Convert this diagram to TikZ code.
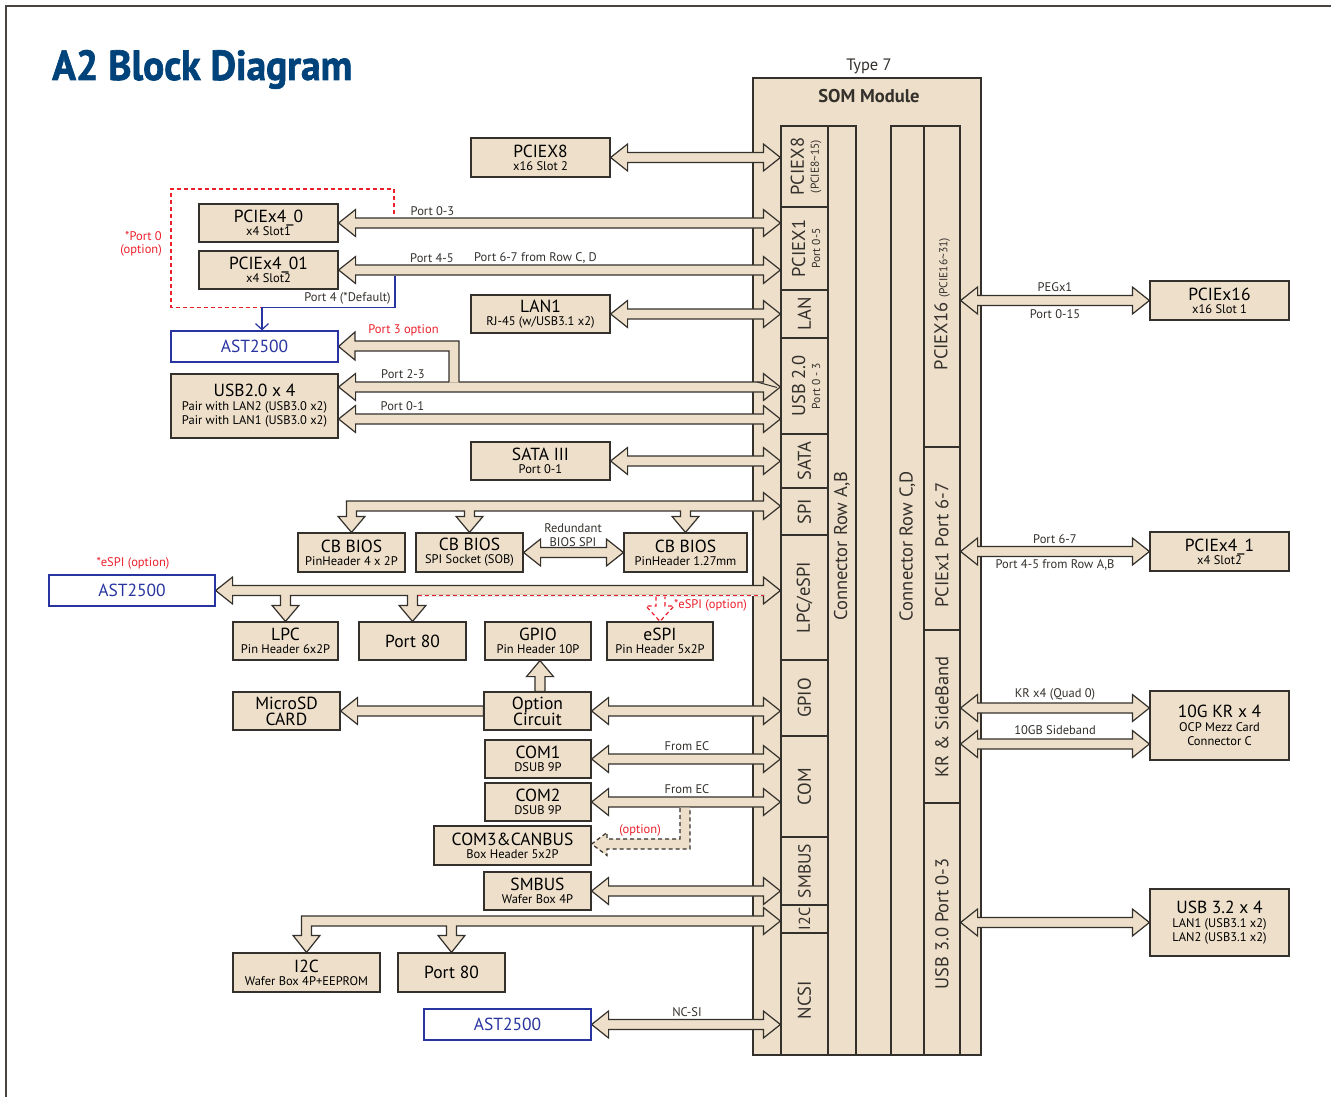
\documentclass[tikz,border=0pt]{standalone}
\usepackage{fontspec}
\setmainfont{PT Sans}
\usepackage{graphicx}
\usetikzlibrary{arrows.meta,calc}
\pgfdeclarelayer{back}
\pgfdeclarelayer{arr}
\pgfsetlayers{back,arr,main}
\definecolor{bg}{RGB}{237,223,201}
\definecolor{ink}{RGB}{52,48,44}
\definecolor{astblue}{RGB}{40,52,160}
\definecolor{optred}{RGB}{236,32,44}
\definecolor{titleblue}{RGB}{0,66,122}
\newcommand\bx[2]{{\fontsize{17.5}{13}\selectfont #1}\\#2}
% double horizontal block arrow: y of #1, from x of #1 to x of #2
\newcommand\dbl[2]{\path[blk] let \p1=(#1), \p2=(#2) in
 (\x1,\y1) -- (\x1+17pt,\y1+13.5pt) -- (\x1+17pt,\y1+5pt) -- (\x2-17pt,\y1+5pt) -- (\x2-17pt,\y1+13.5pt) -- (\x2,\y1)
 -- (\x2-17pt,\y1-13.5pt) -- (\x2-17pt,\y1-5pt) -- (\x1+17pt,\y1-5pt) -- (\x1+17pt,\y1-13.5pt) -- cycle;}
\begin{document}
\begin{tikzpicture}[x=1pt,y=-1pt,
 box/.style={draw=ink,fill=bg,line width=1.2pt,inner sep=0pt,align=center,font=\fontsize{12.5}{13}\selectfont},
 bigbox/.style={box,font=\fontsize{17.5}{16}\selectfont},
 tribox/.style={box,font=\fontsize{12.5}{14}\selectfont},
 astbox/.style={draw=astblue,fill=white,line width=1.2pt,inner sep=0pt,text=astblue,font=\fontsize{17.5}{17}\selectfont},
 cell/.style={draw=ink,fill=bg,line width=1.2pt,inner sep=0pt},
 rot/.style={rotate=90,inner sep=0pt,align=center,text=ink,font=\fontsize{18.5}{15}\selectfont},
 lbl/.style={inner sep=0pt,text=ink,font=\fontsize{12.5}{12}\selectfont},
 redlbl/.style={lbl,text=optred},
 blk/.style={fill=bg,draw=ink,line width=1.2pt,line join=miter},
 frameln/.style={draw=ink!90,line width=2.5pt},
 blueln/.style={draw=astblue,line width=1.2pt},
 reddash/.style={draw=optred,line width=1.2pt,dash pattern=on 4pt off 3pt},
 blkdash/.style={draw=ink,line width=1.2pt,dash pattern=on 4pt off 3pt}
]
\useasboundingbox (0,0) rectangle (1331,1097);
\begin{pgfonlayer}{back}
\fill[white] (0,0) rectangle (1331,1097);
\end{pgfonlayer}
\draw[frameln] (6,1100) -- (6,6) -- (1335,6);

% title
\node[anchor=base west,inner sep=0pt,text=titleblue] (title) at (52,80)
  {\resizebox{300pt}{30pt}{\bfseries\addfontfeature{FakeBold=1.6}A2 Block Diagram}};

% ---------- SOM module ----------
\begin{pgfonlayer}{back}
\node[cell,minimum width=228pt,minimum height=977pt] (som) at (867,566.5) {};
\end{pgfonlayer}
\node[inner sep=0pt,text=ink,font=\fontsize{16.5}{16}\selectfont] (type7) at (869,66) {Type 7};
\node[inner sep=0pt,text=ink,font=\fontsize{18.5}{18}\selectfont\bfseries] (somt) at (869,96) {SOM Module};

\node[cell,minimum width=47pt,minimum height=81pt]  (s-x8)   at (804.5,166.5) {};
\node[cell,minimum width=47pt,minimum height=83pt]  (s-x1)   at (804.5,248.5) {};
\node[cell,minimum width=47pt,minimum height=48pt]  (s-lan)  at (804.5,314) {};
\node[cell,minimum width=47pt,minimum height=96pt]  (s-usb)  at (804.5,386) {};
\node[cell,minimum width=47pt,minimum height=54pt]  (s-sata) at (804.5,461) {};
\node[cell,minimum width=47pt,minimum height=47pt]  (s-spi)  at (804.5,511.5) {};
\node[cell,minimum width=47pt,minimum height=125pt] (s-lpc)  at (804.5,597.5) {};
\node[cell,minimum width=47pt,minimum height=76pt]  (s-gpio) at (804.5,698) {};
\node[cell,minimum width=47pt,minimum height=101pt] (s-com)  at (804.5,786.5) {};
\node[cell,minimum width=47pt,minimum height=68pt]  (s-smb)  at (804.5,871) {};
\node[cell,minimum width=47pt,minimum height=28pt]  (s-i2c)  at (804.5,919) {};
\node[cell,minimum width=47pt,minimum height=122pt] (s-ncsi) at (804.5,994) {};
\node[cell,minimum width=28pt,minimum height=929pt] (s-ab)   at (842,590.5) {};
\node[cell,minimum width=33pt,minimum height=929pt] (s-cd)   at (907.5,590.5) {};
\node[cell,minimum width=36pt,minimum height=321pt] (s-x16)  at (942,286.5) {};
\node[cell,minimum width=36pt,minimum height=183pt] (s-p67)  at (942,538.5) {};
\node[cell,minimum width=36pt,minimum height=173pt] (s-kr)   at (942,716.5) {};
\node[cell,minimum width=36pt,minimum height=252pt] (s-u3)   at (942,929) {};

\node[rot] (t-x8)   at (806,166.5) {PCIEX8\\{\fontsize{11.5}{11}\selectfont (PCIE8\textasciitilde15)}};
\node[rot] (t-x1)   at (806,248.5) {PCIEX1\\{\fontsize{11.5}{11}\selectfont Port 0-5}};
\node[rot] (t-lan)  at (804.5,314) {LAN};
\node[rot] (t-usb)  at (806,386) {USB 2.0\\{\fontsize{11.5}{11}\selectfont Port 0 - 3}};
\node[rot] (t-sata) at (804.5,461) {SATA};
\node[rot] (t-spi)  at (804.5,511.5) {SPI};
\node[rot] (t-lpc)  at (804.5,597.5) {LPC/eSPI};
\node[rot] (t-gpio) at (804.5,698) {GPIO};
\node[rot] (t-com)  at (804.5,786.5) {COM};
\node[rot,font=\fontsize{17.5}{15}\selectfont] (t-smb)  at (804.5,871) {SMBUS};
\node[rot,font=\fontsize{16}{15}\selectfont] (t-i2c)  at (804.5,919) {I2C};
\node[rot] (t-ncsi) at (804.5,1000) {NCSI};
\node[rot] (t-ab)   at (842,546) {Connector Row A,B};
\node[rot] (t-cd)   at (907.5,546) {Connector Row C,D};
\node[rot] (t-x16)  at (942,304) {PCIEX16 {\fontsize{11.5}{11}\selectfont (PCIE16\textasciitilde31)}};
\node[rot] (t-p67)  at (942,545) {PCIEx1 Port 6-7};
\node[rot] (t-kr)   at (942,717) {KR \& SideBand};
\node[rot] (t-u3)   at (942,924) {USB 3.0 Port 0-3};

% ---------- left blocks ----------
\node[box,minimum width=139pt,minimum height=39pt] (pcie8) at (540.5,157.5) {\bx{PCIEX8}{x16 Slot 2}};
\node[box,minimum width=139pt,minimum height=38pt] (x40)   at (268.5,223) {\bx{PCIEx4\_0}{x4 Slot1}};
\node[box,minimum width=139pt,minimum height=38pt] (x401)  at (268.5,270) {\bx{PCIEx4\_01}{x4 Slot2}};
\node[astbox,minimum width=167pt,minimum height=31pt] (ast1) at (254.5,346.5) {AST2500};
\node[tribox,minimum width=167pt,minimum height=64pt] (usb2) at (254.5,406) {{\fontsize{17.5}{14}\selectfont USB2.0 x 4}\\Pair with LAN2 (USB3.0 x2)\\Pair with LAN1 (USB3.0 x2)};
\node[box,minimum width=139pt,minimum height=38pt] (lan1)  at (540.5,314) {\bx{LAN1}{RJ-45 (w/USB3.1 x2)}};
\node[box,minimum width=139pt,minimum height=38pt] (sata)  at (540.5,461) {\bx{SATA III}{Port 0-1}};
\node[box,minimum width=107pt,minimum height=39pt] (cb1)   at (351.5,552.5) {\bx{CB BIOS}{PinHeader 4 x 2P}};
\node[box,minimum width=107pt,minimum height=39pt] (cb2)   at (469.5,552.5) {\bx{CB BIOS}{SPI Socket (SOB)}};
\node[box,minimum width=123pt,minimum height=39pt] (cb3)   at (685.5,552.5) {\bx{CB BIOS}{PinHeader 1.27mm}};
\node[astbox,minimum width=166pt,minimum height=31pt] (ast2) at (132,590.5) {AST2500};
\node[box,minimum width=105pt,minimum height=38pt] (lpc)   at (285.5,641) {\bx{LPC}{Pin Header 6x2P}};
\node[bigbox,minimum width=107pt,minimum height=38pt] (p80a) at (412.5,641) {Port 80};
\node[box,minimum width=106pt,minimum height=38pt] (gpio)  at (538,641) {\bx{GPIO}{Pin Header 10P}};
\node[box,minimum width=106pt,minimum height=38pt] (espi)  at (660,641) {\bx{eSPI}{Pin Header 5x2P}};
\node[bigbox,minimum width=107pt,minimum height=38pt] (msd) at (286.5,711) {MicroSD\\CARD};
\node[bigbox,minimum width=107pt,minimum height=38pt] (opt) at (537.5,711) {Option\\Circuit};
\node[box,minimum width=106pt,minimum height=38pt] (com1)  at (538,759) {\bx{COM1}{DSUB 9P}};
\node[box,minimum width=106pt,minimum height=38pt] (com2)  at (538,802) {\bx{COM2}{DSUB 9P}};
\node[box,minimum width=157pt,minimum height=39pt] (com3)  at (512.5,845.5) {\bx{COM3\&CANBUS}{Box Header 5x2P}};
\node[box,minimum width=107pt,minimum height=38pt] (smb)   at (537.5,891) {\bx{SMBUS}{Wafer Box 4P}};
\node[box,minimum width=147pt,minimum height=39pt] (i2c)   at (306.5,972.5) {\bx{I2C}{Wafer Box 4P+EEPROM}};
\node[bigbox,minimum width=107pt,minimum height=39pt] (p80b) at (451.5,972.5) {Port 80};
\node[astbox,minimum width=167pt,minimum height=31pt] (ast3) at (507.5,1024.5) {AST2500};

% ---------- right blocks ----------
\node[box,minimum width=139pt,minimum height=39pt] (x16) at (1219.5,300.5) {\bx{PCIEx16}{x16 Slot 1}};
\node[box,minimum width=139pt,minimum height=39pt] (x41) at (1219.5,551.5) {\bx{PCIEx4\_1}{x4 Slot2}};
\node[tribox,minimum width=139pt,minimum height=69pt] (kr) at (1219.5,725.5) {{\fontsize{17.5}{14}\selectfont 10G KR x 4}\\OCP Mezz Card\\Connector C};
\node[tribox,minimum width=139pt,minimum height=67pt] (u32) at (1219.5,922.5) {{\fontsize{17.5}{14}\selectfont USB 3.2 x 4}\\LAN1 (USB3.1 x2)\\LAN2 (USB3.1 x2)};

% ---------- arrows ----------
\begin{pgfonlayer}{arr}
\dbl{pcie8.east}{s-x8.west}
\dbl{x40.east}{s-x1.west}
\dbl{x401.east}{s-x1.west}
\dbl{lan1.east}{s-lan.west}
\dbl{[yshift=19pt]usb2.east}{s-usb.west}
\dbl{[yshift=-13pt]usb2.east}{s-usb.west}
\dbl{sata.east}{s-sata.west}
\dbl{cb2.east}{cb3.west}
\dbl{opt.east}{s-gpio.west}
\dbl{com1.east}{s-com.west}
\dbl{com2.east}{s-com.west}
\dbl{smb.east}{s-smb.west}
\dbl{ast3.east}{s-ncsi.west}
\dbl{s-x16.east |- x16.west}{x16.west}
\dbl{s-p67.east |- x41.west}{x41.west}
\coordinate (krq) at ($(s-kr.east |- kr.west)+(0,-17.5)$);
\coordinate (krs) at ($(s-kr.east |- kr.west)+(0,18.5)$);
\dbl{krq}{kr.west}
\dbl{krs}{kr.west}
\dbl{s-u3.east |- u32.west}{u32.west}
% MicroSD <- Option circuit
\path[blk] let \p1=(msd.east), \p2=(opt.west) in
 (\x1,\y1) -- (\x1+17pt,\y1+13.5pt) -- (\x1+17pt,\y1+5pt) -- (\x2,\y1+5pt) -- (\x2,\y1-5pt) -- (\x1+17pt,\y1-5pt) -- (\x1+17pt,\y1-13.5pt) -- cycle;
% Option circuit -> GPIO
\path[blk] let \p1=(gpio.south), \p2=(opt.north) in
 (\x1+2pt,\y1) -- (\x1+15.5pt,\y1-16pt) -- (\x1+7pt,\y1-16pt) -- (\x1+7pt,\y2) -- (\x1-3pt,\y2) -- (\x1-3pt,\y1-16pt) -- (\x1-11.5pt,\y1-16pt) -- cycle;
% SPI bus
\path[blk] let \p1=(cb1.north), \p2=(cb2.north), \p3=(cb3.north), \p4=(s-spi.west), \p0=(0,506) in
 (\x1-5pt,\y0+5pt) -- (\x4-17pt,\y0+5pt) -- (\x4-17pt,\y0+13.5pt) -- (\x4,\y0) -- (\x4-17pt,\y0-13.5pt) -- (\x4-17pt,\y0-5pt)
 -- (\x3+5pt,\y0-5pt) -- (\x3+5pt,\y3+16pt) -- (\x3+13.5pt,\y3+16pt) -- (\x3,\y3) -- (\x3-13.5pt,\y3+16pt) -- (\x3-5pt,\y3+16pt) -- (\x3-5pt,\y0-5pt)
 -- (\x2+5pt,\y0-5pt) -- (\x2+5pt,\y2+16pt) -- (\x2+13.5pt,\y2+16pt) -- (\x2,\y2) -- (\x2-13.5pt,\y2+16pt) -- (\x2-5pt,\y2+16pt) -- (\x2-5pt,\y0-5pt)
 -- (\x1+5pt,\y0-5pt) -- (\x1+5pt,\y1+16pt) -- (\x1+13.5pt,\y1+16pt) -- (\x1,\y1) -- (\x1-13.5pt,\y1+16pt) -- (\x1-5pt,\y1+16pt) -- cycle;
% LPC bus
\path[blk] let \p1=(ast2.east), \p2=(lpc.north), \p3=(p80a.north), \p4=(s-lpc.west) in
 (\x1,\y1) -- (\x1+17pt,\y1+13.5pt) -- (\x1+17pt,\y1+5pt) -- (\x4-17pt,\y1+5pt) -- (\x4-17pt,\y1+13.5pt) -- (\x4,\y1) -- (\x4-17pt,\y1-13.5pt) -- (\x4-17pt,\y1-5pt)
 -- (\x3+5pt,\y1-5pt) -- (\x3+5pt,\y3+16pt) -- (\x3+13.5pt,\y3+16pt) -- (\x3,\y3) -- (\x3-13.5pt,\y3+16pt) -- (\x3-5pt,\y3+16pt) -- (\x3-5pt,\y1-5pt)
 -- (\x2+5pt,\y1-5pt) -- (\x2+5pt,\y2+16pt) -- (\x2+13.5pt,\y2+16pt) -- (\x2,\y2) -- (\x2-13.5pt,\y2+16pt) -- (\x2-5pt,\y2+16pt) -- (\x2-5pt,\y1-5pt)
 -- (\x1+17pt,\y1-5pt) -- (\x1+17pt,\y1-13.5pt) -- cycle;
% I2C bus
\path[blk] let \p1=(i2c.north), \p2=(p80b.north), \p4=(s-i2c.west), \p0=(0,921) in
 (\x1-5pt,\y0+5pt) -- (\x4-17pt,\y0+5pt) -- (\x4-17pt,\y0+13.5pt) -- (\x4,\y0) -- (\x4-17pt,\y0-13.5pt) -- (\x4-17pt,\y0-5pt)
 -- (\x2+5pt,\y0-5pt) -- (\x2+5pt,\y2+17pt) -- (\x2+13.5pt,\y2+17pt) -- (\x2,\y2) -- (\x2-13.5pt,\y2+17pt) -- (\x2-5pt,\y2+17pt) -- (\x2-5pt,\y0-5pt)
 -- (\x1+5pt,\y0-5pt) -- (\x1+5pt,\y1+17pt) -- (\x1+13.5pt,\y1+17pt) -- (\x1,\y1) -- (\x1-13.5pt,\y1+17pt) -- (\x1-5pt,\y1+17pt) -- cycle;
% Port 3 option band (AST2500 <- USB port 3)
\fill[bg] (ast1.east) -- (355,332) -- (355,341) -- (459,341) -- (459,382.7) -- (449,382.7) -- (449,351) -- (355,351) -- (355,360) -- cycle;
\draw[ink,line width=1.2pt,line join=miter] (449,382) -- (449,351) -- (355,351) -- (355,360) -- (ast1.east) -- (355,332) -- (355,341) -- (459,341) -- (459,382);
\draw[ink,line width=1pt] (757,382) -- (777,387.5);
% COM3 option band (dashed)
\fill[bg] (680,807.6) -- (680,839) -- (607,839) -- (607,832.5) -- (com3.east |- 0,844) -- (607,855.5) -- (607,849) -- (690,849) -- (690,807.6) -- cycle;
\draw[blkdash,line join=miter] (680,808) -- (680,839) -- (607,839) -- (607,832.5) -- (com3.east |- 0,844) -- (607,855.5) -- (607,849) -- (690,849) -- (690,808);
% eSPI option (red dashed)
\draw[white,line width=1.6pt] (417.5,595.5) -- (764,595.5);
\draw[reddash] (417.5,595.5) -- (764,595.5);
\draw[reddash,line join=miter] (656,596.5) -- (656,606) -- (646,606) -- (espi.north) -- (674,606) -- (665,606) -- (665,596.5);
\end{pgfonlayer}

% red dashed option frame and blue default line
\draw[reddash] (394,214) -- (394,189) -- (171,189) -- (171,307.5) -- (262,307.5);
\coordinate (bl) at (262,307.5);
\draw[blueln,-{Straight Barb[length=6pt,width=13pt]}] (395,275.5) -- (395,307.5) -- (bl) -- (bl |- ast1.north);

% ---------- labels ----------
\node[lbl] (l1) at (432.5,211) {Port 0-3};
\node[lbl] (l2) at (432,258) {Port 4-5};
\node[lbl] (l3) at (535.5,258) {Port 6-7 from Row C, D};
\node[lbl] (l4) at (347.5,298) {Port 4 (*Default)};
\node[redlbl] (l5) at (403.5,330) {Port 3 option};
\node[lbl] (l6) at (403,374) {Port 2-3};
\node[lbl] (l7) at (402.5,406) {Port 0-1};
\node[redlbl,anchor=east] (l8) at (162,236) {*Port 0};
\node[redlbl,anchor=east] (l9) at (162,250) {(option)};
\node[lbl] (l10) at (573,528) {Redundant};
\node[lbl] (l11) at (573,542) {BIOS SPI};
\node[redlbl] (l12) at (133,563) {*eSPI (option)};
\node[redlbl,anchor=west] (l13) at (674,605) {*eSPI (option)};
\node[lbl] (l14) at (687,746) {From EC};
\node[lbl] (l15) at (687,789) {From EC};
\node[redlbl] (l16) at (640,830) {(option)};
\node[lbl] (l17) at (687,1012) {NC-SI};
\node[lbl] (r1) at (1055,287) {PEGx1};
\node[lbl] (r2) at (1055,314) {Port 0-15};
\node[lbl] (r3) at (1055,539) {Port 6-7};
\node[lbl] (r4) at (1055,565) {Port 4-5 from Row A,B};
\node[lbl] (r5) at (1055,694) {KR x4 (Quad 0)};
\node[lbl] (r6) at (1055,730) {10GB Sideband};
\end{tikzpicture}
\end{document}
